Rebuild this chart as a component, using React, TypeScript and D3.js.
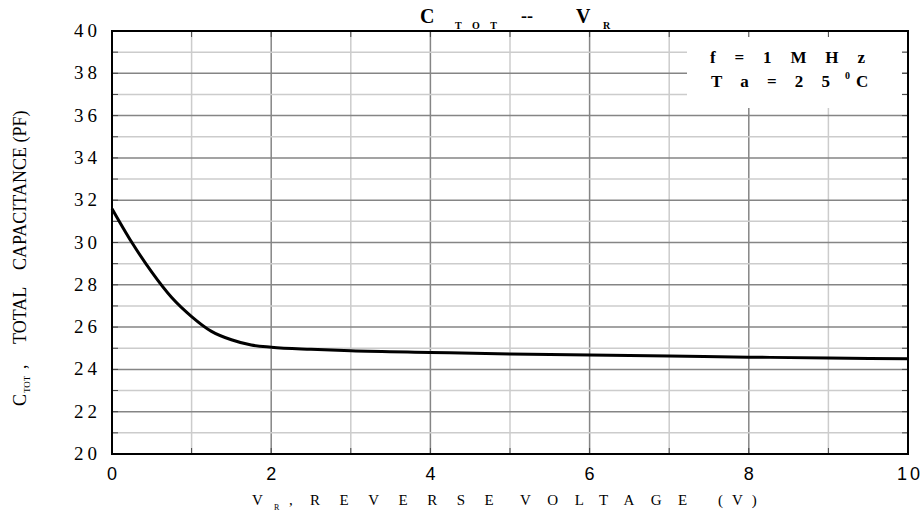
import * as d3 from "d3";

// reverse voltage (V) and total capacitance (pF)
const vr = [0, 0.25, 0.5, 0.75, 1, 1.25, 1.5, 1.75, 2, 2.5, 3, 4, 5, 6, 7, 8, 9, 10];
const ctot = [31.6, 30.0, 28.6, 27.4, 26.5, 25.8, 25.4, 25.15, 25.05, 24.95, 24.88, 24.8, 24.73, 24.68, 24.63, 24.58, 24.54, 24.5];

const xTicks = [0, 2, 4, 6, 8, 10];
const yTicks = [20, 22, 24, 26, 28, 30, 32, 34, 36, 38, 40];
const xMinor = d3.range(0, 11, 1);
const yMinor = d3.range(20, 41, 1);

const W = 922;
const H = 517;
const margin = { top: 31, right: 14, bottom: 63, left: 112 };

const serif = "'Liberation Serif', 'Times New Roman', serif";
const sans = "'Liberation Sans', Arial, sans-serif";

export default function App() {
  const x = d3.scaleLinear().domain([0, 10]).range([margin.left, W - margin.right]);
  const y = d3.scaleLinear().domain([20, 40]).range([H - margin.bottom, margin.top]);

  const line = d3
    .line<number>()
    .x((_, i) => x(vr[i]))
    .y((d) => y(d))
    .curve(d3.curveMonotoneX);

  const [x0, x1] = x.range();
  const [y0, y1] = y.range(); // y0 bottom, y1 top

  return (
    <svg width={W} height={H} style={{ position: "absolute", left: 0, top: 0, background: "#fff" }}>
      {/* grid */}
      {xMinor.slice(1, -1).map((v) => (
        <line key={"gx" + v} x1={x(v)} x2={x(v)} y1={y1} y2={y0}
          stroke={v % 2 === 0 ? "#858585" : "#cccccc"} strokeWidth={1.5} />
      ))}
      {yMinor.slice(1, -1).map((v) => (
        <line key={"gy" + v} x1={x0} x2={x1} y1={y(v)} y2={y(v)}
          stroke={v % 2 === 0 ? "#858585" : "#cccccc"} strokeWidth={1.5} />
      ))}

      {/* legend box */}
      <rect x={687} y={y1 + 1} width={x1 - 6 - 687} height={76} fill="#fff" />
      <text x={710} y={63} fontFamily={serif} fontWeight="bold" fontSize={17}
        textLength={155} lengthAdjust="spacing">f = 1 M H z</text>
      <text x={711} y={87} fontFamily={serif} fontWeight="bold" fontSize={17}
        textLength={119} lengthAdjust="spacing">T a = 2 5</text>
      <text x={845} y={79} fontFamily={serif} fontWeight="bold" fontSize={10}>0</text>
      <text x={856} y={87} fontFamily={serif} fontWeight="bold" fontSize={17}>C</text>

      {/* inward ticks */}
      {xMinor.slice(1, -1).map((v) => (
        <g key={"tx" + v} stroke="#444" strokeWidth={1}>
          <line x1={x(v)} x2={x(v)} y1={y1} y2={y1 + 6} />
          <line x1={x(v)} x2={x(v)} y1={y0} y2={y0 - 6} />
        </g>
      ))}
      {yMinor.slice(1, -1).map((v) => (
        <g key={"ty" + v} stroke="#444" strokeWidth={1}>
          <line x1={x0} x2={x0 + 6} y1={y(v)} y2={y(v)} />
          <line x1={x1} x2={x1 - 6} y1={y(v)} y2={y(v)} />
        </g>
      ))}

      {/* frame */}
      <rect x={x0} y={y1} width={x1 - x0} height={y0 - y1} fill="none" stroke="#000" strokeWidth={2} />

      {/* curve */}
      <path d={line(ctot) ?? ""} fill="none" stroke="#000" strokeWidth={3} />

      {/* y tick labels */}
      {yTicks.map((v) => (
        <text key={"ly" + v} x={101} y={y(v) + 6} textAnchor="end" fontFamily={serif}
          fontSize={19} letterSpacing={4}>{String(v)}</text>
      ))}
      {/* x tick labels */}
      {xTicks.map((v) => (
        <text key={"lx" + v} x={x(v) + (v === 10 ? 2 : 0)} y={480} textAnchor="middle"
          fontFamily={sans} fontSize={18} letterSpacing={v === 10 ? 3 : 0}>{String(v)}</text>
      ))}

      {/* title */}
      <g fontFamily={serif} fontWeight="bold">
        <text x={420} y={23} fontSize={20}>C</text>
        <text x={455} y={29} fontSize={10} textLength={42} lengthAdjust="spacing">T O T</text>
        <text x={521} y={22} fontSize={18}>--</text>
        <text x={576} y={23} fontSize={20}>V</text>
        <text x={603} y={29} fontSize={10}>R</text>
      </g>

      {/* x axis title */}
      <g fontFamily={serif} fontSize={15}>
        <text x={252} y={505}>V</text>
        <text x={274} y={510} fontSize={8}>R</text>
        <text x={289} y={505}>,</text>
        <text x={310} y={505} letterSpacing={19.5}>REVERSE</text>
        <text x={520} y={505} letterSpacing={16.5}>VOLTAGE</text>
        <text x={718} y={505} letterSpacing={9}>(V)</text>
      </g>

      {/* y axis title */}
      <g transform="translate(26,406) rotate(-90)" fontFamily={serif} fontSize={18}>
        <text x={0} y={0}>C</text>
        <text x={13} y={4} fontSize={9}>TOT</text>
        <text x={37} y={0}>,</text>
        <text x={62} y={0}>TOTAL</text>
        <text x={136} y={0}>CAPACITANCE (PF)</text>
      </g>
    </svg>
  );
}
